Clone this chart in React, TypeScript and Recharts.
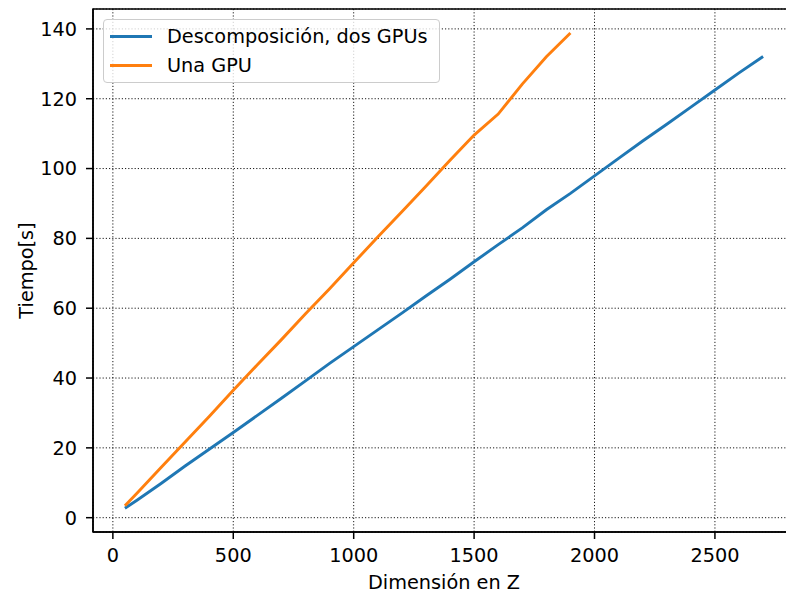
import React from 'react';
import {
  LineChart,
  Line,
  XAxis,
  YAxis,
  CartesianGrid,
  ReferenceArea,
} from 'recharts';

// Dimensión en Z (x values)
const zDos = [50, 100, 200, 300, 400, 500, 600, 700, 800, 900, 1000, 1100, 1200, 1300, 1400, 1500, 1600, 1700, 1800, 1900, 2000, 2100, 2200, 2300, 2400, 2500, 2600, 2700];
const tDos = [2.7, 5.0, 9.8, 14.8, 19.6, 24.4, 29.3, 34.2, 39.2, 44.2, 49.0, 53.8, 58.6, 63.5, 68.3, 73.3, 78.2, 83.0, 88.2, 92.9, 97.9, 102.9, 107.9, 112.7, 117.6, 122.5, 127.4, 132.1];

const zUna = [50, 100, 200, 300, 400, 500, 600, 700, 800, 900, 1000, 1100, 1200, 1300, 1400, 1500, 1600, 1700, 1800, 1900];
const tUna = [3.4, 7.0, 14.4, 21.7, 29.0, 36.5, 43.8, 51.0, 58.4, 65.6, 73.0, 80.4, 87.6, 94.9, 102.4, 109.6, 115.6, 124.2, 132.0, 138.8];

const xTicks = [0, 500, 1000, 1500, 2000, 2500];
const yTicks = [0, 20, 40, 60, 80, 100, 120, 140];

const series = [
  { name: 'Descomposición, dos GPUs', color: '#1f77b4', data: zDos.map((z, i) => ({ z, t: tDos[i] })) },
  { name: 'Una GPU', color: '#ff7f0e', data: zUna.map((z, i) => ({ z, t: tUna[i] })) },
];

const FONT = "'DejaVu Sans', sans-serif";
const FS = 19.3;
const X_DOMAIN: [number, number] = [-82.5, 2832.5];
const Y_DOMAIN: [number, number] = [-4.1, 145.7];

function MplLegend() {
  return (
    <div
      style={{
        position: 'absolute',
        left: 103,
        top: 19,
        width: 337,
        height: 64,
        boxSizing: 'border-box',
        border: '1px solid #cccccc',
        borderRadius: 4,
        background: 'rgba(255,255,255,0.8)',
        fontFamily: FONT,
        fontSize: FS,
        color: '#000',
      }}
    >
      {series.map((s, i) => (
        <div
          key={s.name}
          style={{
            position: 'absolute',
            left: 6,
            top: 4 + i * 29.3,
            height: 24,
            display: 'flex',
            alignItems: 'center',
            whiteSpace: 'nowrap',
          }}
        >
          <span style={{ display: 'inline-block', width: 42, height: 3, background: s.color }} />
          <span style={{ marginLeft: 15 }}>{s.name}</span>
        </div>
      ))}
    </div>
  );
}

export default function App() {
  return (
    <div style={{ position: 'absolute', left: 0, top: 0, width: 786, height: 594, overflow: 'hidden', background: '#fff' }}>
      <LineChart width={800} height={594} margin={{ top: 9, right: 5, left: 0, bottom: 0 }}>
        <CartesianGrid stroke="#000" strokeWidth={0.9} strokeDasharray="1.2 2" />
        <XAxis
          type="number"
          dataKey="z"
          domain={X_DOMAIN}
          allowDataOverflow
          ticks={xTicks}
          height={62}
          tickSize={7}
          tickMargin={9}
          stroke="#000"
          strokeWidth={1.5}
          tick={{ fill: '#000', fontSize: FS, fontFamily: FONT }}
          label={{ value: 'Dimensión en Z', position: 'insideBottom', offset: 5, fill: '#000', fontSize: FS, fontFamily: FONT }}
        />
        <YAxis
          type="number"
          dataKey="t"
          domain={Y_DOMAIN}
          allowDataOverflow
          ticks={yTicks}
          width={93}
          tickSize={7}
          tickMargin={9}
          stroke="#000"
          strokeWidth={1.5}
          tick={{ fill: '#000', fontSize: FS, fontFamily: FONT }}
          label={{ value: 'Tiempo[s]', angle: -90, position: 'insideLeft', offset: 26, fill: '#000', fontSize: FS, fontFamily: FONT, style: { textAnchor: 'middle' } }}
        />
        <ReferenceArea x1={X_DOMAIN[0]} x2={X_DOMAIN[1]} y1={Y_DOMAIN[0]} y2={Y_DOMAIN[1]} fill="none" stroke="#000" strokeWidth={1.5} />
        {series.map((s) => (
          <Line
            key={s.name}
            data={s.data}
            dataKey="t"
            name={s.name}
            type="linear"
            stroke={s.color}
            strokeWidth={2.9}
            dot={false}
            isAnimationActive={false}
          />
        ))}
      </LineChart>
      <MplLegend />
    </div>
  );
}
